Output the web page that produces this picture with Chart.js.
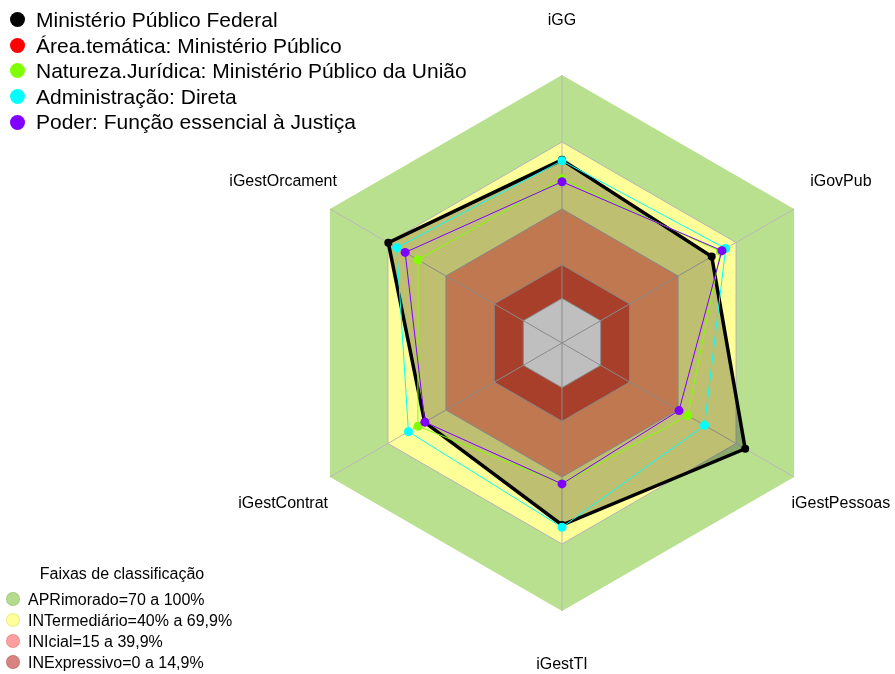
<!DOCTYPE html>
<html>
<head>
<meta charset="utf-8">
<script src="https://cdn.jsdelivr.net/npm/chart.js@4/dist/chart.umd.min.js"></script>
<style>
  body { margin: 0; background: #fff; font-family: 'Liberation Sans', Arial, sans-serif; }
  #quadre { position: relative; width: 895px; height: 674px; overflow: hidden; }
  .llegenda { position: absolute; left: 0; color: #000; white-space: nowrap; }
  .fila { position: relative; }
  .punt { position: absolute; border-radius: 50%; }
</style>
</head>
<body>
<div id="quadre">
  <canvas id="grafic-radar"></canvas>
  <div id="llegenda-series" class="llegenda" style="top:7px"></div>
  <div id="llegenda-faixas" class="llegenda" style="top:563px"></div>
</div>
<script>
const eixos = ['iGG', 'iGovPub', 'iGestPessoas', 'iGestTI', 'iGestContrat', 'iGestOrcament'];

const nomesSeries = [
    'Ministério Público Federal',
    'Área.temática: Ministério Público',
    'Natureza.Jurídica: Ministério Público da União',
    'Administração: Direta',
    'Poder: Função essencial à Justiça'
];
const coresSeries = ['#000000', '#FF0000', '#80FF00', '#00FFFF', '#8000FF'];

const mpf = [62, 57.4, 74.7, 61.5, 51, 69.8];
const areaTematica = [62, 57.4, 74.7, 61.5, 51, 69.8];
const naturezaJuridica = [53.5, 62, 45, 43, 54.5, 54.5];
const administracao = [61.6, 64.6, 53.7, 62.5, 59.4, 65.4];
const poder = [52.2, 62.7, 40.5, 43.1, 50.9, 61.1];

// faixas de classificacao (limite superior de cada faixa)
const nomesFaixas = ['APRimorado=70 a 100%', 'INTermediário=40% a 69,9%', 'INIcial=15 a 39,9%', 'INExpressivo=0 a 14,9%'];
const limitesFaixas = [100, 70, 40, 15];
const coresFaixas = ['#B9E08F', '#FFFF99', '#FFA06A', '#E0553A'];
const coresLegendaFaixas = ['#B5DC8C', '#FFFF99', '#FF9E9E', '#D98282'];
const aneis = [-20, 0, 15, 40, 70, 100];

const FONT = "'Liberation Sans', Arial, sans-serif";

function hexagono(ctx, escala, valor) {
    const d = escala.getDistanceFromCenterForValue(valor);
    ctx.beginPath();
    for (let i = 0; i < eixos.length; i++) {
        const p = escala.getPointPosition(i, d);
        if (i === 0) ctx.moveTo(p.x, p.y); else ctx.lineTo(p.x, p.y);
    }
    ctx.closePath();
}

const pluginFaixas = {
    id: 'faixas',
    beforeDraw(chart) {
        const ctx = chart.ctx;
        const escala = chart.scales.r;
        ctx.save();
        limitesFaixas.forEach((lim, i) => {
            hexagono(ctx, escala, lim);
            ctx.fillStyle = coresFaixas[i];
            ctx.fill();
        });
        hexagono(ctx, escala, 0);
        ctx.fillStyle = '#FFFFFF';
        ctx.fill();
        ctx.restore();
    },
    afterDraw(chart) {
        const ctx = chart.ctx;
        const escala = chart.scales.r;
        ctx.save();
        ctx.font = '16px ' + FONT;
        ctx.fillStyle = '#000';
        ctx.textAlign = 'center';
        ctx.textBaseline = 'middle';
        eixos.forEach((nome, i) => {
            const p = escala.getPointPosition(i, escala.drawingArea + 54);
            ctx.fillText(nome, p.x, p.y);
        });
        ctx.restore();
    }
};

function conjunt(idx, dades, ordre, extra) {
    return Object.assign({
        label: nomesSeries[idx],
        data: dades,
        order: ordre,
        borderColor: coresSeries[idx],
        backgroundColor: coresSeries[idx],
        pointBackgroundColor: coresSeries[idx],
        pointBorderColor: coresSeries[idx],
        borderWidth: 1,
        pointRadius: 4.5,
        pointBorderWidth: 0,
        fill: false,
        tension: 0
    }, extra || {});
}

const ctx = document.getElementById('grafic-radar').getContext('2d');
new Chart(ctx, {
    type: 'radar',
    data: {
        labels: eixos,
        datasets: [
            conjunt(0, mpf, 3, { borderWidth: 3.5, pointRadius: 4, backgroundColor: 'rgba(0,0,0,0.25)', fill: 'start' }),
            conjunt(1, areaTematica, 4, { pointRadius: 3 }),
            conjunt(2, naturezaJuridica, 2),
            conjunt(3, administracao, 1),
            conjunt(4, poder, 0)
        ]
    },
    options: {
        responsive: true,
        maintainAspectRatio: false,
        animation: false,
        events: [],
        layout: { padding: { left: 294, right: 65, top: 75, bottom: 63 } },
        scales: {
            r: {
                min: -20,
                max: 100,
                afterBuildTicks: s => { s.ticks = aneis.map(v => ({ value: v })); },
                ticks: { display: false },
                grid: {
                    color: c => (c.tick && c.tick.value === 100) ? 'rgba(0,0,0,0)' : '#B4B4B4',
                    lineWidth: 1
                },
                angleLines: { color: '#B9B9B9', lineWidth: 1 },
                pointLabels: { display: false }
            }
        },
        plugins: {
            legend: { display: false },
            tooltip: { enabled: false }
        }
    },
    plugins: [pluginFaixas]
});

// llegendes en HTML
const lSeries = document.getElementById('llegenda-series');
nomesSeries.forEach((nom, i) => {
    const fila = document.createElement('div');
    fila.className = 'fila';
    fila.style.cssText = 'height:25.6px;line-height:25.6px;font-size:21px;padding-left:36px;';
    fila.innerHTML = '<span class="punt" style="left:9.5px;top:5.3px;width:15px;height:15px;background:' + coresSeries[i] + '"></span>' + nom;
    lSeries.appendChild(fila);
});

const lFaixas = document.getElementById('llegenda-faixas');
const titol = document.createElement('div');
titol.style.cssText = 'width:244px;text-align:center;font-size:16px;height:22px;line-height:22px;margin-bottom:3.5px;';
titol.textContent = 'Faixas de classificação';
lFaixas.appendChild(titol);
nomesFaixas.forEach((nom, i) => {
    const fila = document.createElement('div');
    fila.className = 'fila';
    fila.style.cssText = 'height:21.1px;line-height:21.1px;font-size:16px;padding-left:28px;';
    fila.innerHTML = '<span class="punt" style="left:6px;top:3.5px;width:14px;height:14px;box-sizing:border-box;border:1px solid rgba(0,0,0,0.08);background:' + coresLegendaFaixas[i] + '"></span>' + nom;
    lFaixas.appendChild(fila);
});
</script>
</body>
</html>
